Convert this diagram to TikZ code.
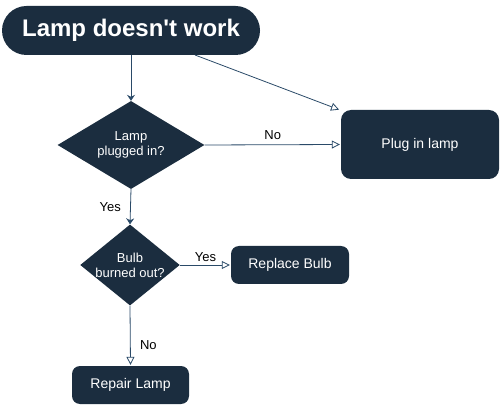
\documentclass[tikz,border=0pt]{standalone}
\usepackage{fontspec}
\setmainfont{Liberation Sans}
\usetikzlibrary{shapes.geometric,arrows.meta}
\definecolor{navy}{HTML}{1B2D3F}
\definecolor{edge}{HTML}{2A4A68}
\newcommand{\straightq}{{\XeTeXglyph\XeTeXglyphindex"quotesingle"\relax}}
\begin{document}
\begin{tikzpicture}[x=1pt,y=-1pt,
  box/.style={fill=navy,draw=none,rounded corners=8pt,text=white,font=\fontsize{14}{16}\selectfont,inner sep=0pt},
  dia/.style={diamond,fill=navy,draw=none,text=white,align=center,font=\fontsize{13}{15}\selectfont,inner sep=0pt},
  conn/.style={draw=edge,line width=0.8pt},
  solidtip/.style={conn,-{Stealth[length=6pt,width=8pt,inset=2pt]}},
  opentip/.style={conn,-{Triangle[open,length=8pt,width=8pt]},shorten >=1pt},
  lbl/.style={font=\fontsize{13}{15}\selectfont,text=black}]
\useasboundingbox (0,0) rectangle (501,406);
\node[fill=navy,rounded corners=24.5pt,minimum width=258pt,minimum height=49pt,text=white,font=\fontsize{24}{28}\selectfont\bfseries,inner sep=0pt] (title) at (131,30.5) {Lamp doesn\straightq t work};
\node[dia,minimum width=147pt,minimum height=88pt,shape aspect=1.67] (d1) at (131,145) {Lamp\\plugged in?};
\node[box,minimum width=158pt,minimum height=69pt,rounded corners=10pt] (plug) at (420,144.5) {Plug in lamp};
\node[dia,minimum width=96pt,minimum height=78pt,shape aspect=1.23] (d2) at (130,265) {Bulb\\burned out?};
\node[box,minimum width=118pt,minimum height=38pt] (rep) at (290,265) {Replace Bulb};
\node[box,minimum width=117pt,minimum height=38pt] (fix) at (130.5,385) {Repair Lamp};
\coordinate (t1) at (131,100);
\draw[solidtip] (title.south -| t1) -- (d1.north);
\coordinate (ts) at (195,55);
\coordinate (pe) at (340,110);
\draw[opentip] (ts) -- (pe);
\draw[opentip] (d1.east) -- (plug.west) node[lbl,pos=0.5,above=1pt] {No};
\draw[solidtip] (d1.south) -- (d2.north) node[lbl,pos=0.5,left=6pt] {Yes};
\draw[opentip] (d2.east) -- (rep.west) node[lbl,pos=0.5,above=0pt] {Yes};
\draw[opentip] (d2.south) -- (fix.north) node[lbl,pos=0.65,right=6pt] {No};
\end{tikzpicture}
\end{document}
